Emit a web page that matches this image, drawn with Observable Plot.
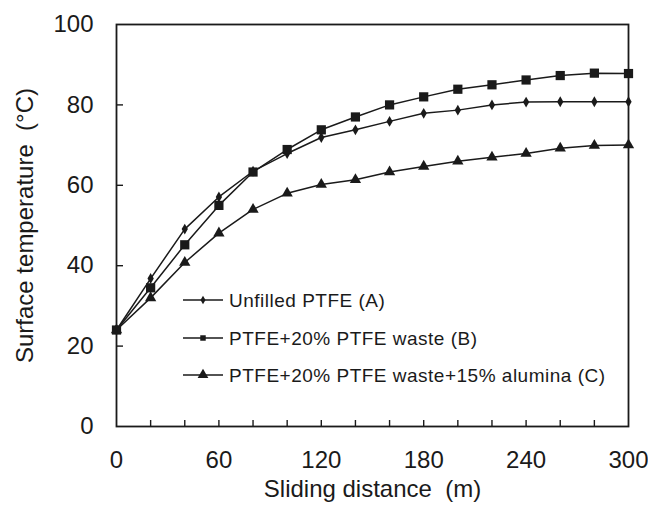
<!DOCTYPE html>
<html>
<head>
<meta charset="utf-8">
<script src="https://cdn.jsdelivr.net/npm/d3@7"></script>
<script src="https://cdn.jsdelivr.net/npm/@observablehq/plot@0.6"></script>
<style>
  html, body { margin: 0; padding: 0; background: #fff; }
</style>
</head>
<body>
<div id="chart"></div>
<script>
// ---- data ----
const distance = [0, 20, 40, 60, 80, 100, 120, 140, 160, 180, 200, 220, 240, 260, 280, 300];
const unfilledA = [24, 36.8, 49.1, 57.1, 63.5, 67.9, 71.9, 73.8, 75.9, 77.9, 78.7, 80, 80.7, 80.8, 80.8, 80.8];
const wasteB    = [24, 34.5, 45.2, 55, 63.3, 68.9, 73.8, 77, 80, 82, 83.9, 85, 86.2, 87.3, 87.9, 87.8];
const aluminaC  = [24, 32, 40.8, 48.1, 54, 58, 60.2, 61.4, 63.3, 64.7, 66, 67, 67.9, 69.2, 69.9, 70];
const seriesNames = ["Unfilled PTFE (A)", "PTFE+20% PTFE waste (B)", "PTFE+20% PTFE waste+15% alumina (C)"];
const seriesValues = [unfilledA, wasteB, aluminaC];
const seriesSymbols = ["diamond", "square", "triangle"];
const xTickLabels = [0, 60, 120, 180, 240, 300];
const xMinorTicks = [20, 40, 60, 80, 100, 120, 140, 160, 180, 200, 220, 240, 260, 280];
const yTickLabels = [0, 20, 40, 60, 80, 100];
const yMinorTicks = [20, 40, 60, 80];
const xTitle = "Sliding distance\u00a0 (m)";
const yTitle = "Surface temperature\u00a0 (°C)";

const rows = [];
seriesNames.forEach((name, i) => {
  distance.forEach((x, j) => rows.push({series: name, x, y: seriesValues[i][j]}));
});

const W = 648, H = 511, mL = 116, mR = 20, mT = 24, mB = 85;
const frameW = W - mL - mR, frameH = H - mT - mB;
const ink = "#1a1a1a";
const font = "'Liberation Sans', Arial, sans-serif";
const dotR = {"diamond": 3.3, "square": 5.2, "triangle": 4.2};

const chart = Plot.plot({
  width: W,
  height: H,
  marginLeft: mL,
  marginRight: mR,
  marginTop: mT,
  marginBottom: mB,
  x: {domain: [0, 300]},
  y: {domain: [0, 100]},
  symbol: {domain: seriesNames, range: seriesSymbols},
  style: {fontFamily: font, color: ink, background: "#fff", overflow: "visible"},
  marks: [
    Plot.axisX(xTickLabels, {tickSize: 0, tickPadding: 24, fontSize: 24, label: null, fill: ink}),
    Plot.axisY(yTickLabels, {tickSize: 0, tickPadding: 23, fontSize: 24, label: null, fill: ink}),
    // inward minor ticks
    Plot.ruleX(xMinorTicks, {x: d => d, insetTop: frameH - 6, stroke: ink, strokeWidth: 1.4}),
    Plot.ruleY(yMinorTicks, {y: d => d, insetRight: frameW - 7, stroke: ink, strokeWidth: 1.4}),
    Plot.line(rows, {x: "x", y: "y", z: "series", stroke: ink, strokeWidth: 1.5}),
    ...seriesNames.map((name, i) =>
      Plot.dot(rows.filter(d => d.series === name),
        {x: "x", y: "y", symbol: "series", fill: ink, stroke: "none", r: dotR[seriesSymbols[i]]})
    ),
    Plot.frame({stroke: ink, strokeWidth: 1.8}),
    Plot.text([xTitle], {frameAnchor: "bottom", dy: 70, fontSize: 24, fill: ink, textAnchor: "middle"}),
    Plot.text([yTitle], {frameAnchor: "left", dx: -91, rotate: -90, fontSize: 24, fill: ink, textAnchor: "middle"})
  ]
});

// ---- legend (inside the plot area) ----
const svg = d3.select(chart);
const legend = svg.append("g").attr("font-family", font).attr("fill", ink).attr("text-anchor", "start");
const legendRowY = [300, 338, 375];
const legendSym = {"diamond": [d3.symbolDiamond, 22], "square": [d3.symbolSquare, 30], "triangle": [d3.symbolTriangle, 50]};
seriesNames.forEach((name, i) => {
  const g = legend.append("g").attr("transform", `translate(0,${legendRowY[i]})`);
  g.append("line").attr("x1", 183).attr("x2", 223).attr("y1", 0).attr("y2", 0)
    .attr("stroke", ink).attr("stroke-width", 1.5);
  const [type, size] = legendSym[seriesSymbols[i]];
  g.append("path").attr("d", d3.symbol(type, size)()).attr("transform", "translate(203,0)").attr("fill", ink);
  g.append("text").attr("x", 229).attr("y", 0).attr("dy", "0.36em")
    .attr("font-size", 19).attr("letter-spacing", "0.5px").text(name);
});

document.getElementById("chart").appendChild(chart);
</script>
</body>
</html>
